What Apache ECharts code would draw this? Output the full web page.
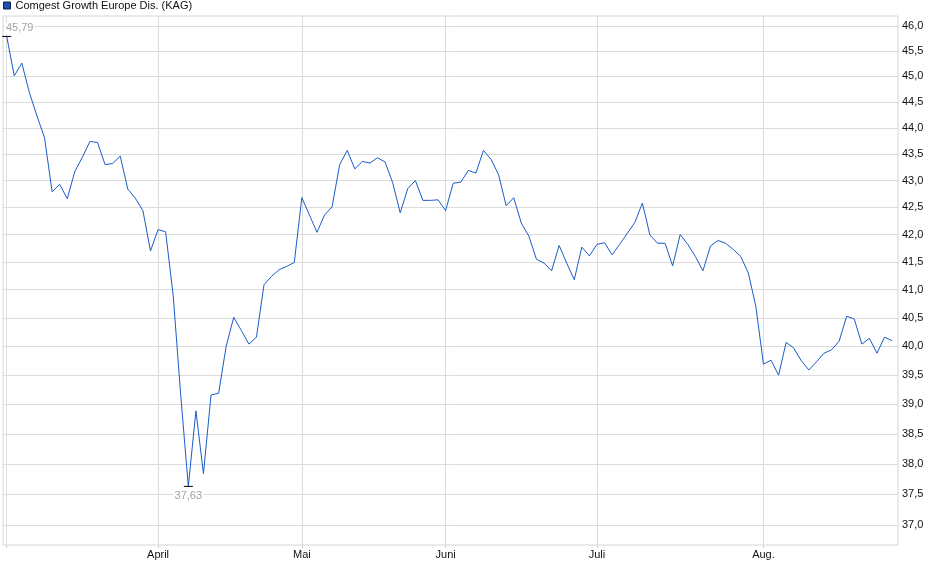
<!DOCTYPE html>
<html>
<head>
<meta charset="utf-8">
<script src="https://cdn.jsdelivr.net/npm/echarts@6/dist/echarts.min.js"></script>
<style>
html,body{margin:0;padding:0;background:#fff;}
#chart{width:940px;height:579px;}
</style>
</head>
<body>
<div id="chart"></div>
<script>
var seriesName = 'Comgest Growth Europe Dis. (KAG)';
var monthLabels = ['April', 'Mai', 'Juni', 'Juli', 'Aug.'];
var monthStartIdx = [20, 39, 58, 78, 100];
var yTicks = [37.0, 37.5, 38.0, 38.5, 39.0, 39.5, 40.0, 40.5, 41.0, 41.5, 42.0, 42.5, 43.0, 43.5, 44.0, 44.5, 45.0, 45.5, 46.0];
var prices = [
  45.79, 45.01, 45.26, 44.68, 44.23, 43.81, 42.79, 42.93, 42.66, 43.17,
  43.44, 43.74, 43.72, 43.30, 43.32, 43.46, 42.84, 42.67, 42.44, 41.70,
  42.09, 42.05, 40.90, 39.15, 37.63, 38.89, 37.84, 39.16, 39.19, 40.00,
  40.51, 40.28, 40.04, 40.16, 41.09, 41.24, 41.36, 41.42, 41.49, 42.68,
  42.36, 42.04, 42.36, 42.51, 43.30, 43.57, 43.22, 43.36, 43.33, 43.43,
  43.35, 42.96, 42.40, 42.85, 43.00, 42.63, 42.63, 42.64, 42.44, 42.95,
  42.97, 43.19, 43.14, 43.57, 43.40, 43.11, 42.53, 42.68, 42.21, 41.97,
  41.55, 41.48, 41.34, 41.80, 41.48, 41.18, 41.77, 41.61, 41.82, 41.85,
  41.63, 41.82, 42.02, 42.22, 42.58, 41.99, 41.84, 41.84, 41.43, 42.00,
  41.82, 41.60, 41.34, 41.79, 41.89, 41.84, 41.73, 41.60, 41.30, 40.70,
  39.69, 39.76, 39.50, 40.07, 39.97, 39.75, 39.59, 39.73, 39.88, 39.94,
  40.09, 40.53, 40.48, 40.04, 40.14, 39.88, 40.16, 40.10
];

var lineData = prices.map(function (v, i) { return [i, v]; });
var xTickIdx = [0].concat(monthStartIdx);
function fmtComma(v, d) { return Number(v).toFixed(d).replace('.', ','); }

var chart = echarts.init(document.getElementById('chart'), null, {renderer: 'canvas'});
chart.setOption({
  animation: false,
  backgroundColor: '#fff',
  textStyle: {fontFamily: 'Liberation Sans, Arial, sans-serif'},
  legend: {
    show: true,
    left: 3, top: 0,
    padding: 0,
    itemWidth: 7, itemHeight: 7,
    icon: 'rect',
    textStyle: {fontSize: 11, color: '#111', fontFamily: 'Liberation Sans, Arial, sans-serif'},
    itemStyle: {color: '#1d4fb0', borderColor: '#0b214d', borderWidth: 1},
    data: [seriesName]
  },
  grid: {
    left: 3, right: 42, top: 16, bottom: 34,
    show: true, borderColor: '#d6d6d6', borderWidth: 1,
    containLabel: false
  },
  xAxis: {
    type: 'value',
    min: -0.49, max: 117.78,
    axisLine: {show: false},
    axisTick: {show: true, length: 3, lineStyle: {color: '#d0d0d0'}, customValues: xTickIdx},
    splitLine: {show: true, lineStyle: {color: '#dcdcdc', width: 1}},
    axisLabel: {
      customValues: monthStartIdx,
      fontSize: 11, color: '#111', margin: 4,
      formatter: function (v) {
        var k = monthStartIdx.indexOf(Math.round(v));
        return k >= 0 ? monthLabels[k] : '';
      }
    }
  },
  yAxis: {
    type: 'log',
    position: 'right',
    min: 36.68, max: 46.2,
    axisLine: {show: false},
    axisTick: {show: false, customValues: yTicks},
    splitLine: {show: true, lineStyle: {color: '#dcdcdc', width: 1}},
    axisLabel: {
      customValues: yTicks,
      fontSize: 11, color: '#111', margin: 4,
      formatter: function (v) { return fmtComma(v, 1); }
    }
  },
  series: [{
    name: seriesName,
    type: 'line',
    data: lineData,
    showSymbol: false,
    symbol: 'none',
    lineStyle: {color: '#1a5cc8', width: 1},
    itemStyle: {color: '#1d4fb0'},
    markPoint: {
      symbol: 'rect',
      symbolSize: [9, 1],
      itemStyle: {color: '#000'},
      data: [
        {type: 'max', valueDim: 'y',
         label: {show: true, position: 'top', distance: 1, offset: [13, -1], color: '#a3a3a3', fontSize: 11,
                 backgroundColor: '#fff', padding: [0, 1],
                 formatter: function (p) { return fmtComma(p.value, 2); }}},
        {type: 'min', valueDim: 'y',
         label: {show: true, position: 'bottom', distance: 4, color: '#a3a3a3', fontSize: 11,
                 backgroundColor: '#fff', padding: [0, 1],
                 formatter: function (p) { return fmtComma(p.value, 2); }}}
      ]
    }
  }]
});
</script>
</body>
</html>
